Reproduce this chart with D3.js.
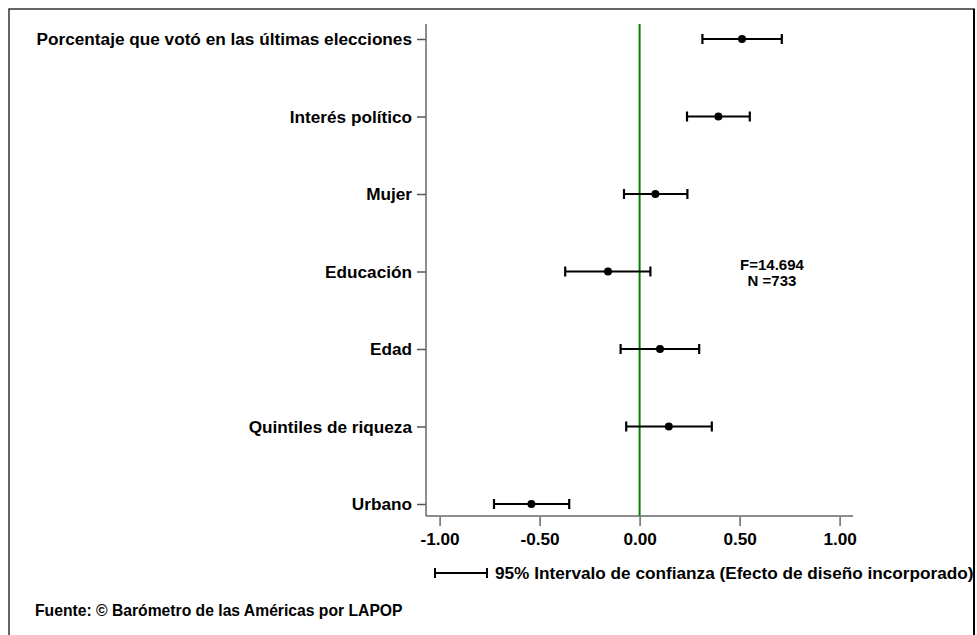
<!DOCTYPE html>
<html>
<head>
<meta charset="utf-8">
<script src="https://cdn.jsdelivr.net/npm/d3@7"></script>
<style>
  body { margin: 0; background: #fff; }
  text { font-family: "Liberation Sans", Arial, sans-serif; font-weight: bold; fill: #000; }
</style>
</head>
<body>
<script>
const categories = ["Porcentaje que votó en las últimas elecciones", "Interés político", "Mujer",
                    "Educación", "Edad", "Quintiles de riqueza", "Urbano"];
const estimates = [0.512, 0.394, 0.079, -0.158, 0.102, 0.146, -0.541];
const lower = [0.314, 0.237, -0.078, -0.372, -0.095, -0.067, -0.728];
const upper = [0.711, 0.551, 0.239, 0.054, 0.298, 0.361, -0.352];
const xTicks = [-1, -0.5, 0, 0.5, 1];
const statLines = ["F=14.694", "N =733"];
const legendText = "95% Intervalo de confianza (Efecto de diseño incorporado)";
const sourceText = "Fuente: © Barómetro de las Américas por LAPOP";

const width = 977, height = 635;
const dataset = categories.map((c, i) => ({ name: c, est: estimates[i], lo: lower[i], hi: upper[i] }));

const svg = d3.select("body").append("svg")
              .attr("width", width)
              .attr("height", height);

// outer frame
svg.append("rect")
   .attr("x", 9).attr("y", 9)
   .attr("width", 965).attr("height", 640)
   .style("fill", "none")
   .style("stroke", "#333")
   .style("stroke-width", 1.5);
svg.append("line")
   .attr("x1", 974).attr("x2", 974).attr("y1", 9).attr("y2", height)
   .style("stroke", "#000").style("stroke-width", 2);

const xScale = d3.scaleLinear().domain([-1, 1]).range([439.6, 839.6]);
const yScale = d3.scalePoint().domain(categories).range([39, 504]);
const axisY = 516, axisX = 426;
const labelFont = "17.2px";

// x axis
const xAxis = d3.axisBottom(xScale)
                .tickValues(xTicks)
                .tickSize(10)
                .tickPadding(7)
                .tickFormat(d => d.toFixed(2));
const gx = svg.append("g")
              .attr("transform", "translate(0," + axisY + ")")
              .call(xAxis);
gx.select(".domain").remove();
gx.append("line")
  .attr("x1", axisX).attr("x2", xScale(1.0675))
  .attr("y1", 0).attr("y2", 0)
  .style("stroke", "#666").style("stroke-width", 1.5);
gx.selectAll(".tick line").style("stroke", "#666").style("stroke-width", 1.5).attr("y1", 1);
gx.selectAll(".tick text")
  .style("font-family", "'Liberation Sans', Arial, sans-serif")
  .style("font-weight", "bold")
  .style("font-size", labelFont)
  .style("fill", "#000");

// y axis
const yAxis = d3.axisLeft(yScale).tickSize(9).tickPadding(5);
const gy = svg.append("g")
              .attr("transform", "translate(" + axisX + ",0)")
              .call(yAxis);
gy.select(".domain").remove();
gy.append("line")
  .attr("x1", 0).attr("x2", 0)
  .attr("y1", 24).attr("y2", axisY)
  .style("stroke", "#666").style("stroke-width", 1.5);
gy.selectAll(".tick line").style("stroke", "#555").style("stroke-width", 1.5);
gy.selectAll(".tick text")
  .style("font-family", "'Liberation Sans', Arial, sans-serif")
  .style("font-weight", "bold")
  .style("font-size", labelFont)
  .style("fill", "#000");

// zero reference line
svg.append("line")
   .attr("x1", xScale(0)).attr("x2", xScale(0))
   .attr("y1", 24).attr("y2", axisY)
   .style("stroke", "#008000").style("stroke-width", 2);

// confidence intervals
const capH = 5;
const rows = svg.selectAll("g.row")
                .data(dataset)
                .enter()
                .append("g")
                .attr("class", "row");
rows.append("line")
    .attr("x1", d => xScale(d.lo)).attr("x2", d => xScale(d.hi))
    .attr("y1", d => yScale(d.name)).attr("y2", d => yScale(d.name))
    .style("stroke", "#000").style("stroke-width", 2.2);
rows.append("line")
    .attr("x1", d => xScale(d.lo)).attr("x2", d => xScale(d.lo))
    .attr("y1", d => yScale(d.name) - capH).attr("y2", d => yScale(d.name) + capH)
    .style("stroke", "#000").style("stroke-width", 2.2);
rows.append("line")
    .attr("x1", d => xScale(d.hi)).attr("x2", d => xScale(d.hi))
    .attr("y1", d => yScale(d.name) - capH).attr("y2", d => yScale(d.name) + capH)
    .style("stroke", "#000").style("stroke-width", 2.2);
rows.append("circle")
    .attr("cx", d => xScale(d.est))
    .attr("cy", d => yScale(d.name))
    .attr("r", 4)
    .style("fill", "#000");

// F / N annotation
svg.append("text")
   .attr("x", 772).attr("y", 270)
   .attr("text-anchor", "middle")
   .style("font-size", "15px")
   .selectAll("tspan")
   .data(statLines)
   .enter()
   .append("tspan")
   .attr("x", 772)
   .attr("dy", (d, i) => i === 0 ? 0 : 16)
   .text(d => d);

// legend
const legY = 573;
svg.append("line")
   .attr("x1", 435).attr("x2", 487).attr("y1", legY).attr("y2", legY)
   .style("stroke", "#000").style("stroke-width", 2);
[435, 487].forEach(x => {
    svg.append("line")
       .attr("x1", x).attr("x2", x).attr("y1", legY - capH).attr("y2", legY + capH)
       .style("stroke", "#000").style("stroke-width", 2);
});
svg.append("text")
   .attr("x", 495).attr("y", legY + 6)
   .style("font-size", labelFont)
   .text(legendText);

// source note
svg.append("text")
   .attr("x", 35).attr("y", 616)
   .style("font-size", "15.7px")
   .text(sourceText);
</script>
</body>
</html>
